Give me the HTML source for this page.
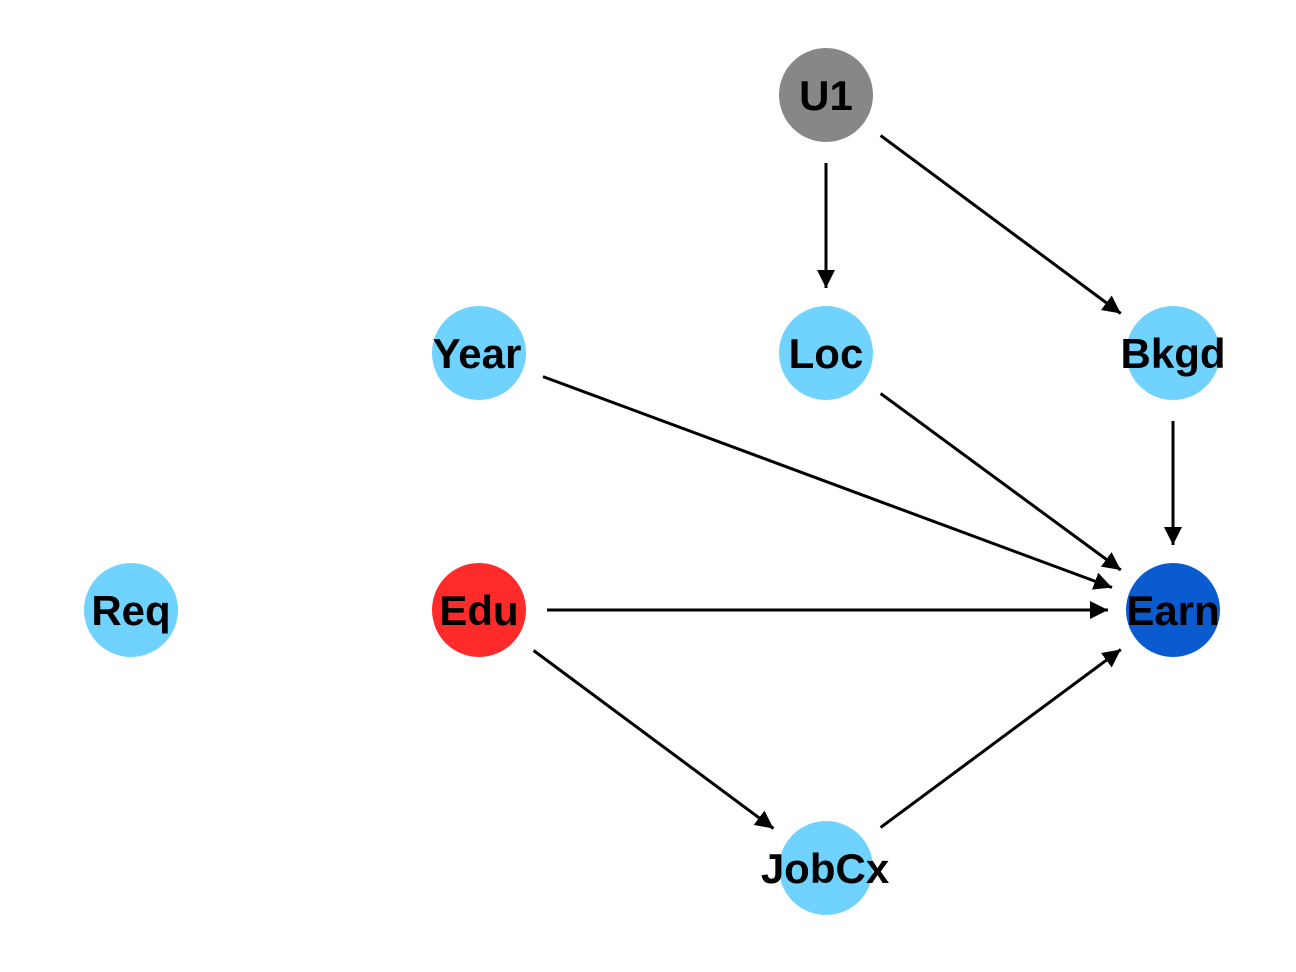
<!DOCTYPE html>
<html>
<head>
<meta charset="utf-8">
<style>
html,body{margin:0;padding:0;background:#fff;}
svg{display:block;}
text{font-family:"Liberation Sans",Arial,sans-serif;font-weight:bold;font-size:42px;fill:#000;text-anchor:middle;}
</style>
</head>
<body>
<svg width="1296" height="972" viewBox="0 0 1296 972" xmlns="http://www.w3.org/2000/svg">
<defs>
<marker id="ah" viewBox="0 0 18 18" refX="18" refY="9" markerWidth="18" markerHeight="18" markerUnits="userSpaceOnUse" orient="auto">
<path d="M0,0 L18,9 L0,18 z" fill="#000"/>
</marker>
</defs>
<rect width="1296" height="972" fill="#fff"/>
<!-- nodes -->
<circle cx="826" cy="95" r="47" fill="#878787"/>
<circle cx="479" cy="353" r="47" fill="#70D3FF"/>
<circle cx="826" cy="353" r="47" fill="#70D3FF"/>
<circle cx="1173" cy="353" r="47" fill="#70D3FF"/>
<circle cx="131" cy="610" r="47" fill="#70D3FF"/>
<circle cx="479" cy="610" r="47" fill="#FF2A2A"/>
<circle cx="1173" cy="610" r="47" fill="#0B5BD0"/>
<circle cx="826" cy="868" r="47" fill="#70D3FF"/>
<!-- edges -->
<g stroke="#000" stroke-width="3" fill="none" marker-end="url(#ah)">
<line x1="826" y1="163" x2="826" y2="288"/>
<line x1="880.6" y1="135.5" x2="1120.8" y2="313.5"/>
<line x1="543" y1="376.6" x2="1112" y2="587.5"/>
<line x1="880.6" y1="393.5" x2="1120.8" y2="570"/>
<line x1="1173" y1="421" x2="1173" y2="545"/>
<line x1="547" y1="610" x2="1108" y2="610"/>
<line x1="533.6" y1="650.5" x2="773.5" y2="828.5"/>
<line x1="880.6" y1="827.5" x2="1120.8" y2="649.5"/>
</g>
<!-- labels -->
<text x="826" y="110">U1</text>
<text x="477" y="368">Year</text>
<text x="826" y="368">Loc</text>
<text x="1173" y="368">Bkgd</text>
<text x="131" y="625">Req</text>
<text x="479" y="625">Edu</text>
<text x="1173" y="625">Earn</text>
<text x="825" y="883">JobCx</text>
</svg>
</body>
</html>
